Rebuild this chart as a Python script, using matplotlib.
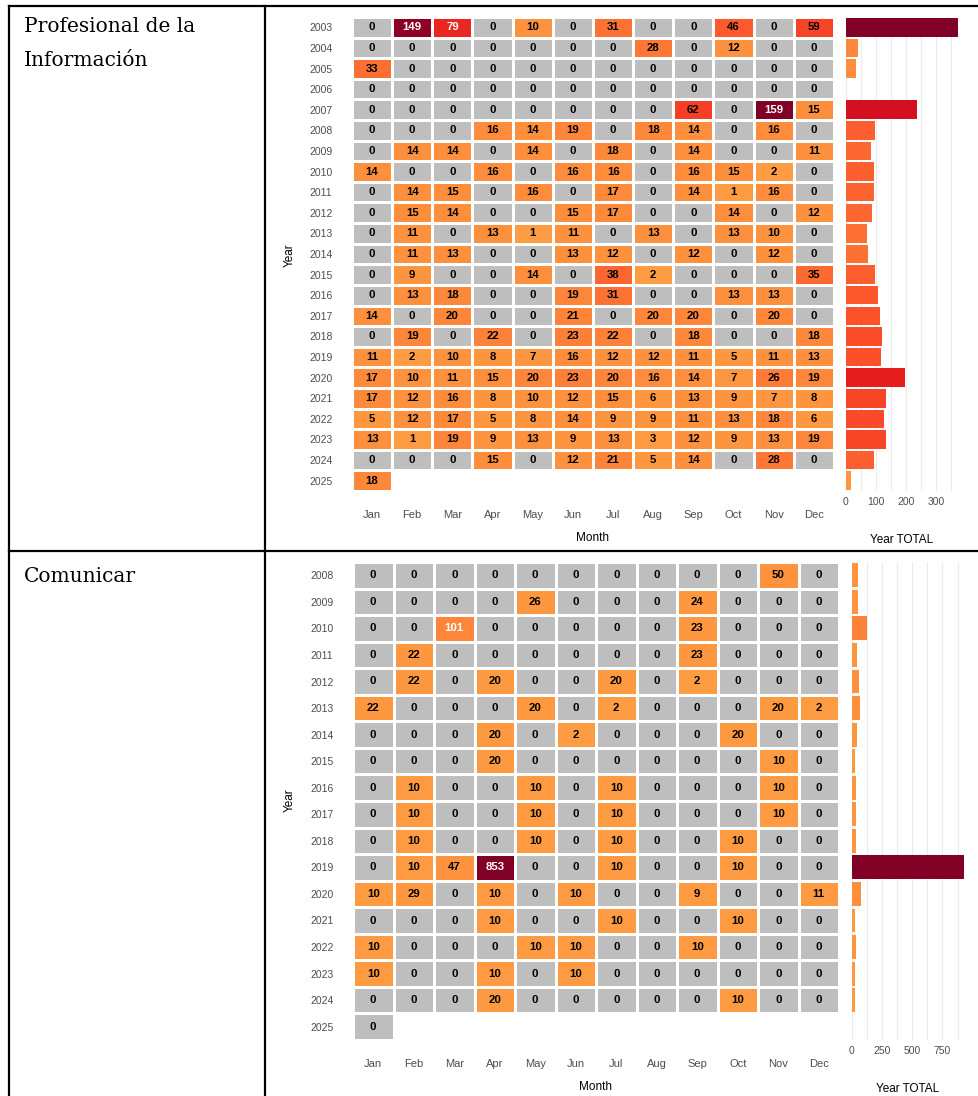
import numpy as np
import matplotlib
matplotlib.use("Agg")
import matplotlib.pyplot as plt
from matplotlib.colors import LinearSegmentedColormap, Normalize

# Datos: publicaciones por mes y año
months = ["Jan", "Feb", "Mar", "Apr", "May", "Jun", "Jul", "Aug", "Sep", "Oct", "Nov", "Dec"]

epi_years = list(range(2003, 2026))
epi_counts = [
    [0, 149, 79, 0, 10, 0, 31, 0, 0, 46, 0, 59],
    [0, 0, 0, 0, 0, 0, 0, 28, 0, 12, 0, 0],
    [33, 0, 0, 0, 0, 0, 0, 0, 0, 0, 0, 0],
    [0, 0, 0, 0, 0, 0, 0, 0, 0, 0, 0, 0],
    [0, 0, 0, 0, 0, 0, 0, 0, 62, 0, 159, 15],
    [0, 0, 0, 16, 14, 19, 0, 18, 14, 0, 16, 0],
    [0, 14, 14, 0, 14, 0, 18, 0, 14, 0, 0, 11],
    [14, 0, 0, 16, 0, 16, 16, 0, 16, 15, 2, 0],
    [0, 14, 15, 0, 16, 0, 17, 0, 14, 1, 16, 0],
    [0, 15, 14, 0, 0, 15, 17, 0, 0, 14, 0, 12],
    [0, 11, 0, 13, 1, 11, 0, 13, 0, 13, 10, 0],
    [0, 11, 13, 0, 0, 13, 12, 0, 12, 0, 12, 0],
    [0, 9, 0, 0, 14, 0, 38, 2, 0, 0, 0, 35],
    [0, 13, 18, 0, 0, 19, 31, 0, 0, 13, 13, 0],
    [14, 0, 20, 0, 0, 21, 0, 20, 20, 0, 20, 0],
    [0, 19, 0, 22, 0, 23, 22, 0, 18, 0, 0, 18],
    [11, 2, 10, 8, 7, 16, 12, 12, 11, 5, 11, 13],
    [17, 10, 11, 15, 20, 23, 20, 16, 14, 7, 26, 19],
    [17, 12, 16, 8, 10, 12, 15, 6, 13, 9, 7, 8],
    [5, 12, 17, 5, 8, 14, 9, 9, 11, 13, 18, 6],
    [13, 1, 19, 9, 13, 9, 13, 3, 12, 9, 13, 19],
    [0, 0, 0, 15, 0, 12, 21, 5, 14, 0, 28, 0],
    [18, None, None, None, None, None, None, None, None, None, None, None],
]

com_years = list(range(2008, 2026))
com_counts = [
    [0, 0, 0, 0, 0, 0, 0, 0, 0, 0, 50, 0],
    [0, 0, 0, 0, 26, 0, 0, 0, 24, 0, 0, 0],
    [0, 0, 101, 0, 0, 0, 0, 0, 23, 0, 0, 0],
    [0, 22, 0, 0, 0, 0, 0, 0, 23, 0, 0, 0],
    [0, 22, 0, 20, 0, 0, 20, 0, 2, 0, 0, 0],
    [22, 0, 0, 0, 20, 0, 2, 0, 0, 0, 20, 2],
    [0, 0, 0, 20, 0, 2, 0, 0, 0, 20, 0, 0],
    [0, 0, 0, 20, 0, 0, 0, 0, 0, 0, 10, 0],
    [0, 10, 0, 0, 10, 0, 10, 0, 0, 0, 10, 0],
    [0, 10, 0, 0, 10, 0, 10, 0, 0, 0, 10, 0],
    [0, 10, 0, 0, 10, 0, 10, 0, 0, 10, 0, 0],
    [0, 10, 47, 853, 0, 0, 10, 0, 0, 10, 0, 0],
    [10, 29, 0, 10, 0, 10, 0, 0, 9, 0, 0, 11],
    [0, 0, 0, 10, 0, 0, 10, 0, 0, 10, 0, 0],
    [10, 0, 0, 0, 10, 10, 0, 0, 10, 0, 0, 0],
    [10, 0, 0, 10, 0, 10, 0, 0, 0, 0, 0, 0],
    [0, 0, 0, 20, 0, 0, 0, 0, 0, 10, 0, 0],
    [0, None, None, None, None, None, None, None, None, None, None, None],
]

W, H = 979, 1096
GRAY = "#BEBEBE"
TXT = "#4D4D4D"

base = plt.cm.YlOrRd(np.linspace(0.45, 1.0, 256))
cmap = LinearSegmentedColormap.from_list("naranja", base)
cmap.set_under(GRAY)
cmap.set_bad((1, 1, 1, 0))

plt.rcParams["font.family"] = ["Liberation Sans", "DejaVu Sans"]


def px(x0, y0, x1, y1):
    # caja en pixeles (desde arriba) -> fraccion de figura
    return [x0 / W, 1 - y1 / H, (x1 - x0) / W, (y1 - y0) / H]


def panel(fig, years, counts, hm_box, bar_box, xt, xlim, grid_step, ylab_x):
    data = np.array([[np.nan if v is None else v for v in row] for row in counts], dtype=float)
    n = len(years)
    vmax = np.nanmax(data)
    norm = Normalize(vmin=1, vmax=vmax)

    ax = fig.add_axes(px(*hm_box))
    ax.pcolormesh(np.arange(13) - 0.5, np.arange(n + 1) - 0.5, np.ma.masked_invalid(data),
                  cmap=cmap, norm=norm, edgecolors="white", linewidth=0.8)
    for i in range(n):
        for j in range(12):
            v = data[i, j]
            if np.isnan(v):
                continue
            ax.text(j, i, f"{int(v)}", ha="center", va="center", fontsize=8.2,
                    fontweight="bold", color="white" if v > 70 else "black")
    ax.set_xlim(-0.5, 11.5)
    ax.set_ylim(n - 0.5, -0.5)
    ax.set_xticks(range(12))
    ax.set_xticklabels(months, fontsize=8, color=TXT)
    ax.set_yticks(range(n))
    ax.set_yticklabels([str(y) for y in years], fontsize=7.5, color=TXT)
    ax.tick_params(length=0)
    ax.tick_params(axis="x", pad=14)
    ax.tick_params(axis="y", pad=14)
    for s in ax.spines.values():
        s.set_visible(False)
    ax.set_xlabel("Month", fontsize=8.5, labelpad=8)
    ax.set_ylabel("")
    fig.text(ylab_x[0] / W, 1 - ylab_x[1] / H, "Year", rotation=90, ha="center", va="center",
             fontsize=8.5)

    totals = np.nansum(data, axis=1)
    tnorm = Normalize(vmin=0, vmax=totals.max())
    bx = fig.add_axes(px(*bar_box))
    bx.barh(range(n), totals, height=0.9, color=cmap(tnorm(totals)), zorder=2)
    bx.set_ylim(n - 0.5, -0.5)
    bx.set_xlim(*xlim)
    bx.set_yticks([])
    bx.set_xticks(xt)
    bx.set_xticklabels([str(t) for t in xt], fontsize=7.5, color=TXT)
    bx.set_xticks(np.arange(0, xlim[1], grid_step), minor=True)
    bx.grid(True, axis="x", which="both", color="#EBEBEB", lw=0.8, zorder=0)
    bx.tick_params(length=0, which="both")
    bx.tick_params(axis="x", pad=4)
    for s in bx.spines.values():
        s.set_visible(False)
    bx.set_xlabel("Year TOTAL", fontsize=8.5, labelpad=20)


fig = plt.figure(figsize=(W / 100, H / 100), dpi=100)

panel(fig, epi_years, epi_counts, (352, 17, 834, 491), (840, 17, 964, 491),
      [0, 100, 200, 300], (-19, 393), 50, (290, 255))
panel(fig, com_years, com_counts, (353, 562, 839, 1040), (846, 562, 970, 1040),
      [0, 250, 500, 750], (-46, 977), 125, (290, 800))

# Tabla de fondo
lw = 1.6
fig.add_artist(plt.Line2D([9 / W, 1], [1 - 6 / H, 1 - 6 / H], color="black", lw=lw))
fig.add_artist(plt.Line2D([9 / W, 1], [1 - 551 / H, 1 - 551 / H], color="black", lw=lw))
fig.add_artist(plt.Line2D([9 / W, 9 / W], [1 - 6 / H, 0], color="black", lw=lw))
fig.add_artist(plt.Line2D([265 / W, 265 / W], [1 - 6 / H, 0], color="black", lw=lw))

serif = ["DejaVu Serif"]
fig.text(24 / W, 1 - 27 / H, "Profesional de la", family=serif, fontsize=14.5, va="center")
fig.text(24 / W, 1 - 60 / H, "Información", family=serif, fontsize=14.5, va="center")
fig.text(24 / W, 1 - 577 / H, "Comunicar", family=serif, fontsize=14.5, va="center")

fig.savefig("out.png", dpi=100)
